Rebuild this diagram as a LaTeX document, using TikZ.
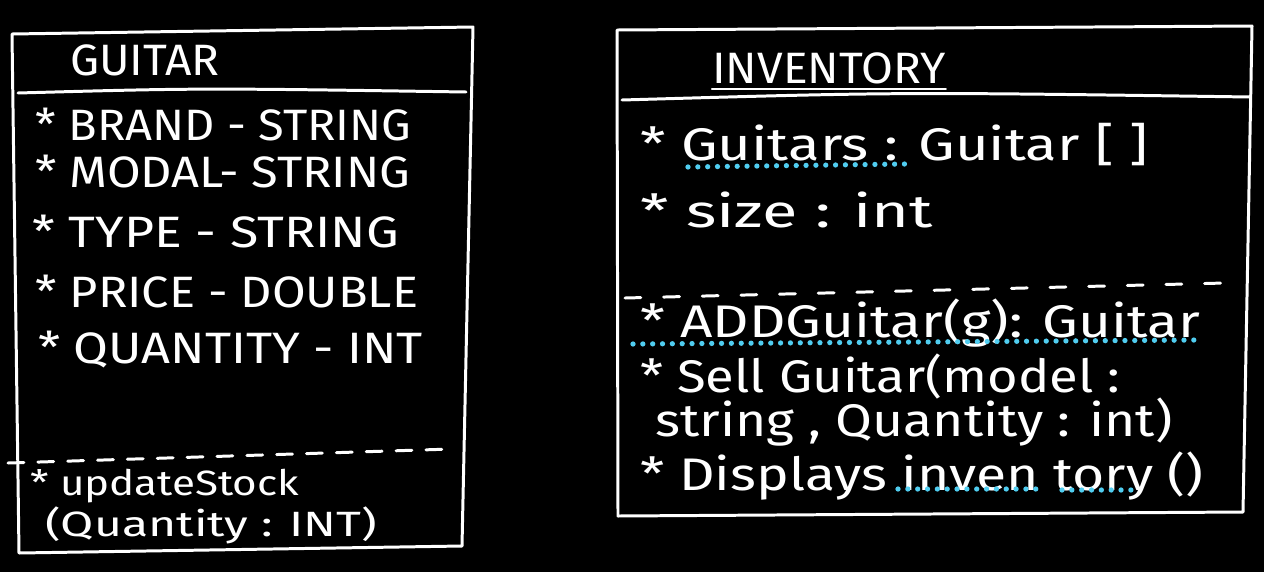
\documentclass[tikz,border=0pt]{standalone}
\usepackage{fontspec}
\usepackage{graphicx}
\setmainfont{Fira Sans}
\newcommand{\hw}[2]{\scalebox{#1}[1]{#2}}
\begin{document}
\begin{tikzpicture}[x=0.02cm,y=-0.02cm,
  ink/.style={draw=white,line width=1.7pt,line cap=round,line join=round},
  dashline/.style={ink,dash pattern=on 9pt off 8pt},
  rdashline/.style={ink,dash pattern=on 9pt off 13pt},
  dotline/.style={draw=cyanink,line width=3pt,line cap=round,dash pattern=on 0pt off 5.6pt},
  txt/.style={text=white,anchor=west,inner sep=0pt,font=\fontsize{25}{28}\selectfont},
  rtxt/.style={txt,font=\fontsize{26}{29}\selectfont},
  stxt/.style={txt,font=\fontsize{20}{22}\selectfont}]
\definecolor{cyanink}{RGB}{80,205,240}
\fill[black] (0,0) rectangle (1264,572);
\useasboundingbox (0,0) rectangle (1264,572);
% ---- GUITAR box ----
\draw[ink] (12,34) -- (473,27) -- (462,546) -- (19,553) -- cycle;
\draw[ink] (18,93) .. controls (200,88) .. (466,92);
\draw[dashline] (8,463) -- (452,449);
\node[txt] (gt) at (70,60) {\hw{1.05}{GUITAR}};
\node[txt] (g1) at (35,125) {\hw{1.07}{* BRAND - STRING}};
\node[txt] (g2) at (35,172) {\hw{1.11}{* MODAL- STRING}};
\node[txt] (g3) at (32,232) {\hw{1.18}{* TYPE - STRING}};
\node[txt] (g4) at (35,292) {\hw{1.11}{* PRICE - DOUBLE}};
\node[txt] (g5) at (38,350) {\hw{1.15}{* QUANTITY - INT}};
\node[stxt] (g6) at (30,486) {\hw{1.2}{* updateStock}};
\node[stxt] (g7) at (45,525) {\hw{1.37}{(Quantity : INT)}};
% ---- INVENTORY box ----
\draw[ink] (617,30) -- (1252,26) -- (1243,512) -- (618,516) -- cycle;
\draw[ink] (622,100) .. controls (900,92) .. (1250,97);
\draw[rdashline] (625,298) -- (1225,283);
\node[txt] (it) at (712,68) {\hw{1.05}{INVENTORY}};
\draw[ink,line width=1.3pt] ([yshift=-3pt]it.south west) -- ([yshift=-3pt]it.south east);
\node[rtxt] (i1) at (640,145) {\hw{1.27}{* Guitars : Guitar [ ]}};
\node[rtxt] (i2) at (640,210) {\hw{1.42}{* size : int}};
\node[rtxt] (m1) at (640,323) {\hw{1.24}{* ADDGuitar(g): Guitar}};
\node[rtxt] (m2) at (640,377) {\hw{1.15}{* Sell Guitar(model :}};
\node[rtxt] (m3) at (655,422) {\hw{1.17}{string , Quantity : int)}};
\node[rtxt] (m4) at (640,476) {\hw{1.21}{* Displays inven tory ()}};
\draw[dotline] (688,167) -- (905,164);
\draw[dotline] (633,344) -- (1198,340);
\draw[dotline] (898,489) -- (1036,489);
\draw[dotline] (1062,490) -- (1135,490);
\end{tikzpicture}
\end{document}
